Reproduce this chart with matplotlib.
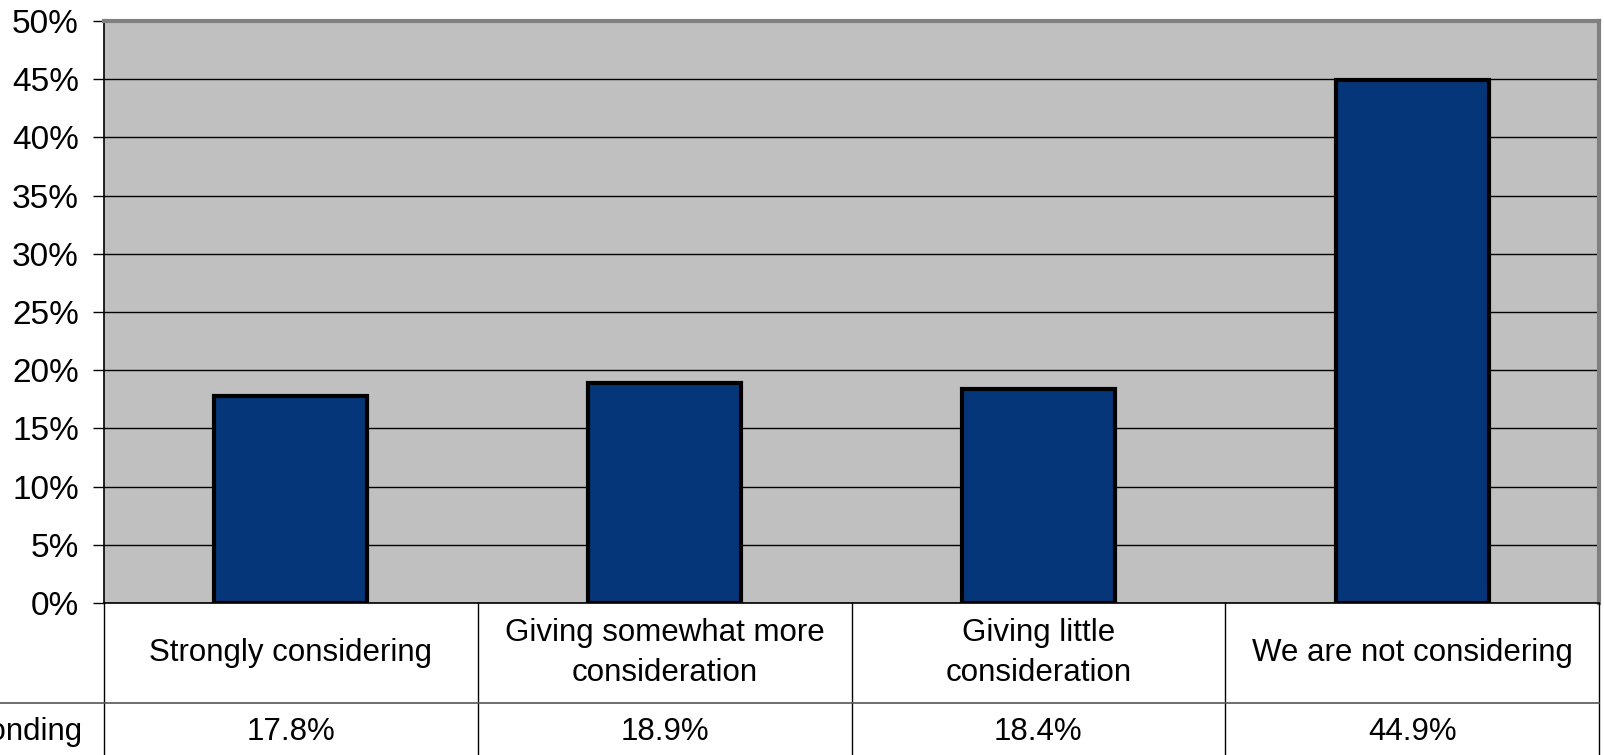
import matplotlib.pyplot as plt
from matplotlib.lines import Line2D
from matplotlib.ticker import FuncFormatter

plt.rcParams["font.family"] = ["Liberation Sans", "DejaVu Sans"]

categories = [
    "Strongly considering",
    "Giving somewhat more\nconsideration",
    "Giving little\nconsideration",
    "We are not considering",
]
pct_responding = [17.8, 18.9, 18.4, 44.9]
row_label = "% Responding"
yticks = [0, 5, 10, 15, 20, 25, 30, 35, 40, 45, 50]

W, H = 1604, 755
fig = plt.figure(figsize=(W / 100, H / 100), dpi=100)

# plot area in pixels: left, top, right, bottom
px_l, px_t, px_r, px_b = 104, 21, 1599, 603
ax = fig.add_axes([px_l / W, 1 - px_b / H, (px_r - px_l) / W, (px_b - px_t) / H])
ax.set_facecolor("#C0C0C0")
x = list(range(len(categories)))
ax.bar(x, pct_responding, width=0.41, color="#06367A", edgecolor="black",
       linewidth=3, zorder=3)
ax.set_xlim(-0.5, len(categories) - 0.5)
ax.set_ylim(0, 50)
ax.set_yticks(yticks)
ax.yaxis.set_major_formatter(FuncFormatter(lambda v, _: f"{v:.0f}%"))
ax.tick_params(axis="y", length=8, width=1, pad=10, labelsize=24, color="black")
ax.set_xticks([])
ax.grid(axis="y", color="black", linewidth=1, zorder=1)
ax.set_axisbelow(True)
for side in ("top", "right"):
    ax.spines[side].set_color("#808080")
    ax.spines[side].set_linewidth(3)
ax.spines["left"].set_color("black")
ax.spines["left"].set_linewidth(1.2)
ax.spines["bottom"].set_color("black")
ax.spines["bottom"].set_linewidth(1.2)

# data table under the plot
row_h = 100
tab = fig.add_axes([px_l / W, 0, (px_r - px_l) / W, (H - px_b) / H])
tab.set_xlim(-0.5, len(categories) - 0.5)
tab.set_ylim(-(H - px_b), 0)
tab.axis("off")
for b in [i - 0.5 for i in range(len(categories) + 1)]:
    tab.plot([b, b], [0, -(H - px_b)], color="black", linewidth=1, clip_on=False)
for i, (cat, val) in enumerate(zip(categories, pct_responding)):
    tab.text(i, -row_h / 2, cat, ha="center", va="center", fontsize=22.5,
             linespacing=1.45)
    tab.text(i, -row_h - 29, f"{val:.1f}%", ha="center", va="center",
             fontsize=22.5)

y_div = 1 - (px_b + row_h) / H
fig.add_artist(Line2D([0, px_r / W], [y_div, y_div], transform=fig.transFigure,
                      color="#555555", linewidth=1.2))
fig.text(82 / W, 1 - 732 / H, row_label, ha="right", va="center", fontsize=22.5)

fig.savefig("out.png", dpi=100)
